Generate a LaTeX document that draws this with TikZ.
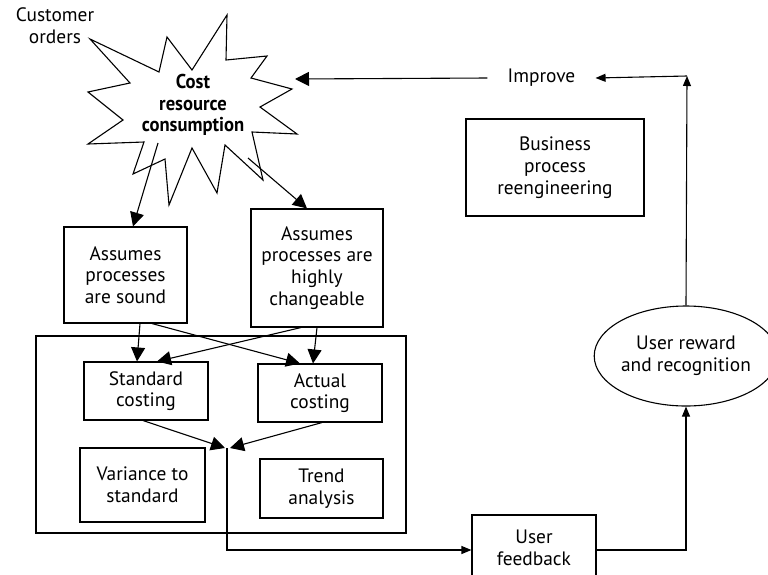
\documentclass[tikz,border=0pt]{standalone}
\usepackage{fontspec}
\setmainfont{PT Sans}
\newfontfamily\condbold[FakeStretch=0.93]{PT Sans}
\usetikzlibrary{arrows.meta,shapes.geometric}
\newcommand{\fsz}{\fontsize{19.4}{21.7}\selectfont}
\begin{document}
\begin{tikzpicture}[x=1pt,y=-1pt, line width=1.1pt,
  box/.style={draw, inner sep=0pt, align=center, font=\fsz},
  txt/.style={inner sep=0pt, align=center, font=\fsz},
  big/.style={-{Triangle[length=14pt,width=14pt]}},
  small/.style={-{Triangle[length=10pt,width=8pt]}}]
\useasboundingbox (0,0) rectangle (768,574);
\clip (0,0) rectangle (768,574);

% starburst
\draw (90,39) -- (159,72) -- (167,37) -- (192,70) -- (227,15) -- (226,60)
  -- (267,56) -- (251,78) -- (292,89) -- (260,107) -- (297,134) -- (252,132)
  -- (263,180) -- (225,145) -- (217,193) -- (192,148) -- (169,205) -- (165,159)
  -- (133,174) -- (144,142) -- (88,144) -- (123,120) -- (88,92) -- (130,83) -- cycle;
\node[inner sep=0pt, align=center, font={\fontsize{20}{21.7}\condbold\bfseries}] (cost) at (193,105) {Cost\\resource\\consumption};

\node[txt] (cust) at (55,26) {Customer\\orders};
\node[txt, minimum width=107pt] (imp) at (541.5,78) {Improve};

\node[box, minimum width=123pt, minimum height=96pt] (sound) at (125.5,275) {Assumes\\processes\\are sound};
\node[box, minimum width=132pt, minimum height=118pt] (change) at (317,268) {Assumes\\processes are\\highly\\changeable};
\node[draw, minimum width=370pt, minimum height=197pt, inner sep=0pt] (cont) at (221,434.5) {};
\node[box, minimum width=124pt, minimum height=58pt] (std) at (146,391) {Standard\\costing};
\node[box, minimum width=124pt, minimum height=58pt] (act) at (320,393) {Actual\\costing};
\node[box, minimum width=125pt, minimum height=74pt] (var) at (142.5,485) {Variance to\\standard};
\node[box, minimum width=123pt, minimum height=59pt] (trend) at (321.5,488.5) {Trend\\analysis};
\node[box, minimum width=178pt, minimum height=97pt] (bpr) at (555,167.5) {Business\\process\\reengineering};
\node[box, minimum width=124pt, minimum height=65pt] (fb) at (534,547.5) {User\\feedback};
\node[draw, ellipse, inner sep=0pt, minimum width=168pt, minimum height=100pt, align=center, font=\fsz] (urr) at (686,356) {User reward\\and recognition};

\coordinate (sbL) at (158,143);
\coordinate (sbR) at (248,158);
\coordinate (sbT) at (295,79);
\coordinate (convL) at (225,448);
\coordinate (convR) at (230,448);
\coordinate (conv) at (227,448);
\coordinate (corner) at (687,76);

\draw[big] (sbL) -- ([xshift=7.5pt]sound.north);
\draw[big] (sbR) -- ([xshift=-10pt]change.north);
\draw[big] (imp.west) -- (sbT);
\draw[big] ([xshift=14.5pt]sound.south) -- ([xshift=-9pt]std.north);
\draw[big] ([xshift=26.5pt]sound.south) -- ([xshift=-20pt]act.north);
\draw[big] ([xshift=-16pt]change.south) -- ([xshift=11pt]std.north);
\draw[big] (change.south) -- ([xshift=-7pt]act.north);
\draw[big] ([xshift=-3pt]std.south) -- (convL);
\draw[big] ([xshift=2pt]act.south) -- (convR);
\draw[small] (conv) |- ([yshift=-2.5pt]fb.west);
\draw[small] ([yshift=-2.5pt]fb.east) -| (urr.south);
\draw[small] (urr.north) -- (corner);
\draw[small] (corner) -- (imp.east);
\end{tikzpicture}
\end{document}
